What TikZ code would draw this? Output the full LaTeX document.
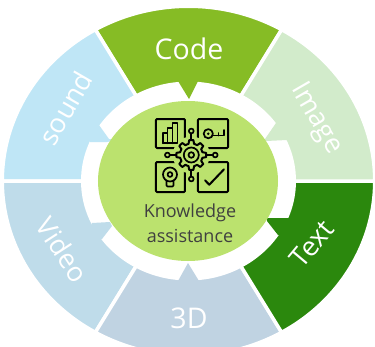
\documentclass[tikz,border=0pt]{standalone}
\usepackage{fontspec}
\setmainfont{Open Sans}
\definecolor{codegreen}{HTML}{86BC25}
\definecolor{imagegreen}{HTML}{D2EBCB}
\definecolor{textgreen}{HTML}{2B880D}
\definecolor{threedblue}{HTML}{C0D3E2}
\definecolor{videoblue}{HTML}{BFDCEA}
\definecolor{soundblue}{HTML}{BFE6F6}
\definecolor{hubgreen}{HTML}{BBE26E}
\begin{document}
\begin{tikzpicture}[x=1pt,y=1pt]
  \tikzstyle{sector}=[draw=white,line width=3.5pt]
  \tikzstyle{label}=[text=white,font=\fontsize{28.5}{28.5}\selectfont,inner sep=0pt]
  \tikzstyle{sidelabel}=[label,font=\fontsize{27}{27}\selectfont]
  \tikzstyle{icon}=[draw=black,line width=2pt,line join=round,line cap=round]
  \tikzstyle{detail}=[icon,line width=1.7pt]
  \useasboundingbox (-188.5,-165) rectangle (186.5,181);
  % outer ring
  \filldraw[sector,fill=codegreen] (0,0) -- (60:186.25 and 174.75) arc[start angle=60,end angle=120,x radius=186.25,y radius=174.75] -- cycle;
  \filldraw[sector,fill=soundblue] (0,0) -- (120:186.25 and 174.75) arc[start angle=120,end angle=180,x radius=186.25,y radius=174.75] -- cycle;
  \filldraw[sector,fill=videoblue] (0,0) -- (180:186.25 and 174.75) arc[start angle=180,end angle=240,x radius=186.25,y radius=174.75] -- cycle;
  \filldraw[sector,fill=threedblue] (0,0) -- (240:186.25 and 174.75) arc[start angle=240,end angle=300,x radius=186.25,y radius=174.75] -- cycle;
  \filldraw[sector,fill=textgreen] (0,0) -- (300:186.25 and 174.75) arc[start angle=300,end angle=360,x radius=186.25,y radius=174.75] -- cycle;
  \filldraw[sector,fill=imagegreen] (0,0) -- (0:186.25 and 174.75) arc[start angle=0,end angle=60,x radius=186.25,y radius=174.75] -- cycle;
  % white band with its notches
  \fill[white] (0,0) ellipse [x radius=107.5,y radius=99.5];
  \fill[codegreen] (-10.5,100) -- (0.5,82) -- (9.5,100) -- cycle;
  \fill[threedblue] (-10.5,-100) -- (-0.5,-82) -- (10.5,-100) -- cycle;
  \fill[imagegreen] (87.5,58) -- (76.5,42) -- (70,41) -- (77.5,40) -- (98.5,41) -- (105,60) -- cycle;
  \fill[textgreen] (100.5,-37) -- (78.5,-37) -- (78.5,-40) -- (89.5,-54) -- (105,-55) -- cycle;
  \fill[soundblue] (-89.5,56) -- (-79.5,42) -- (-70,41) -- (-81.5,39) -- (-98.5,39) -- (-105,58) -- cycle;
  \fill[videoblue] (-96.5,-42) -- (-78.5,-41) -- (-76.5,-45) -- (-86.5,-58) -- (-103,-60) -- cycle;
  \fill[hubgreen] (-0.5,0) ellipse [x radius=90,y radius=80];
  % labels
  \node[label] (code) at (0.5,132) {Code};
  \node[sidelabel,rotate=60] (sound) at (-123,73) {sound};
  \node[sidelabel,rotate=-60] (image) at (127.5,62) {Image};
  \node[sidelabel,rotate=50] (text) at (123.5,-63) {Text};
  \node[sidelabel,rotate=-57] (video) at (-126,-69) {Video};
  \node[label] (threed) at (0.5,-137) {3D};
  \node[text=black!75,align=center,font=\fontsize{18}{25}\selectfont,inner sep=0pt] (knowledge) at (1.5,-42) {Knowledge\\assistance};
  % icon, in the pixel positions of the reference
  \begin{scope}[shift={(-188.5,181)},yscale=-1]
    \draw[icon,rounded corners=1pt] (156,119) rectangle (185,148);
    \draw[icon,rounded corners=1pt] (198,119) rectangle (228,148);
    \draw[icon,rounded corners=1pt] (156,162) rectangle (185,192);
    \draw[icon,rounded corners=1pt] (198,162) rectangle (228,192);
    \fill[hubgreen] (191.3,155) circle (18.5);
    \draw[icon] (191.3,140) -- (191.3,133.5) (191.3,170) -- (191.3,176.5) (176.3,155) -- (169.8,155) (206.3,155) -- (212.8,155);
    \draw[detail] (191.3,131) circle (2.4) (191.3,179) circle (2.4) (167.4,155) circle (2.4) (215.2,155) circle (2.4);
    \draw[icon] ([shift={(191.3,155)}]-8:15) \foreach \a in {0,45,...,315} { -- ([shift={(191.3,155)}]\a-8:15) -- ([shift={(191.3,155)}]\a+8:15) -- ([shift={(191.3,155)}]\a+14:11.5) -- ([shift={(191.3,155)}]\a+31:11.5) } -- cycle;
    \draw[detail] (191.3,155) circle (7.5) (191.3,155) circle (2.8);
    \draw[detail] (162.7,143.3) -- (162.7,133) -- (167.6,133) -- (167.6,143.3) (167.6,133) -- (167.6,128) -- (172.5,128) -- (172.5,143.3) (172.5,128) -- (172.5,123) -- (177.4,123) -- (177.4,143.3) -- (162.7,143.3);
    \draw[detail] (208.3,133.7) circle (4.6);
    \fill (208.3,133.7) circle (1.4);
    \draw[detail] (213,135.6) -- (224,135.6) -- (224,130) (218.5,135.6) -- (218.5,133);
    \draw[detail] (170,174.5) circle (7) (170,174.5) circle (2.4);
    \draw[detail,rounded corners=1pt] (166.5,181) -- (166.5,186.5) -- (173.5,186.5) -- (173.5,181);
    \draw[icon] (205,180.3) -- (209.3,184.7) -- (224,169.3);
  \end{scope}
\end{tikzpicture}
\end{document}
